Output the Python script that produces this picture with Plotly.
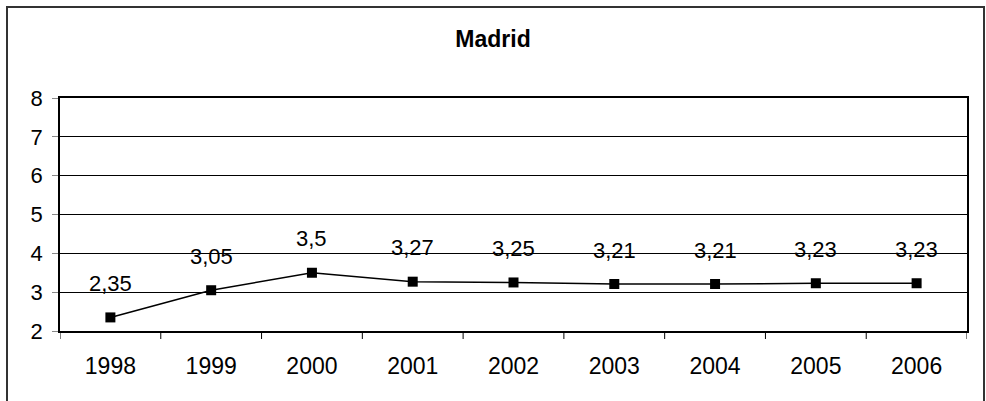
import plotly.graph_objects as go

years = ["1998", "1999", "2000", "2001", "2002", "2003", "2004", "2005", "2006"]
values = [2.35, 3.05, 3.5, 3.27, 3.25, 3.21, 3.21, 3.23, 3.23]
y_ticks = [2, 3, 4, 5, 6, 7, 8]

labels = [f"{v:g}".replace(".", ",") for v in values]
xpos = list(range(len(years)))

FONT = "Liberation Sans, Arial"
FS = 22

fig = go.Figure()
fig.add_trace(go.Scatter(
    x=xpos, y=values, mode="lines+markers",
    line=dict(color="black", width=1.5),
    marker=dict(symbol="square", size=10, color="black"),
    hoverinfo="skip", showlegend=False,
))

for x, v, t in zip(xpos, values, labels):
    fig.add_annotation(x=x, y=v, text=t, showarrow=False, yshift=34,
                       font=dict(family=FONT, size=FS, color="black"))

W, H = 986, 401
L, R, T, B = 60, 19, 98, 70
pw, ph = W - L - R, H - T - B
def px(x): return (x - L) / pw
def py(y): return (H - B - y) / ph

fig.add_shape(type="rect", xref="paper", yref="paper",
              x0=px(7), x1=px(984), y0=py(420), y1=py(7),
              line=dict(color="#333333", width=2), layer="below")

# category boundary ticks
boundaries = [i - 0.5 for i in range(len(years) + 1)]
for b in boundaries:
    fig.add_shape(type="line", xref="x", yref="paper", x0=b, x1=b,
                  y0=0, y1=-8 / ph, line=dict(color="black", width=1))

fig.update_layout(
    width=W, height=H,
    margin=dict(l=L, r=R, t=T, b=B),
    paper_bgcolor="white", plot_bgcolor="white",
    font=dict(family=FONT, size=FS, color="black"),
    title=dict(text="<b>Madrid</b>", x=0.5, xref="container", xanchor="center",
               y=1 - 39 / H, yanchor="middle",
               font=dict(family=FONT, size=23, color="black")),
    xaxis=dict(range=[-0.5, len(years) - 0.5], tickvals=xpos, ticktext=years,
               showline=True, linecolor="black", linewidth=1.5,
               mirror=True, ticks="", showgrid=False, zeroline=False,
               tickangle=0, tickfont=dict(size=23), ticklabelstandoff=14),
    yaxis=dict(range=[2, 8], tickvals=y_ticks, showline=True, linecolor="black",
               linewidth=1.5, mirror=True, ticks="outside", ticklen=6,
               tickcolor="#888888", showgrid=True, gridcolor="black", gridwidth=1,
               zeroline=False, tickfont=dict(size=FS), ticklabelstandoff=5),
)

fig.write_html("out.html", config={"displayModeBar": False},
               post_script="document.body.style.margin='0';document.body.style.overflow='hidden';")
